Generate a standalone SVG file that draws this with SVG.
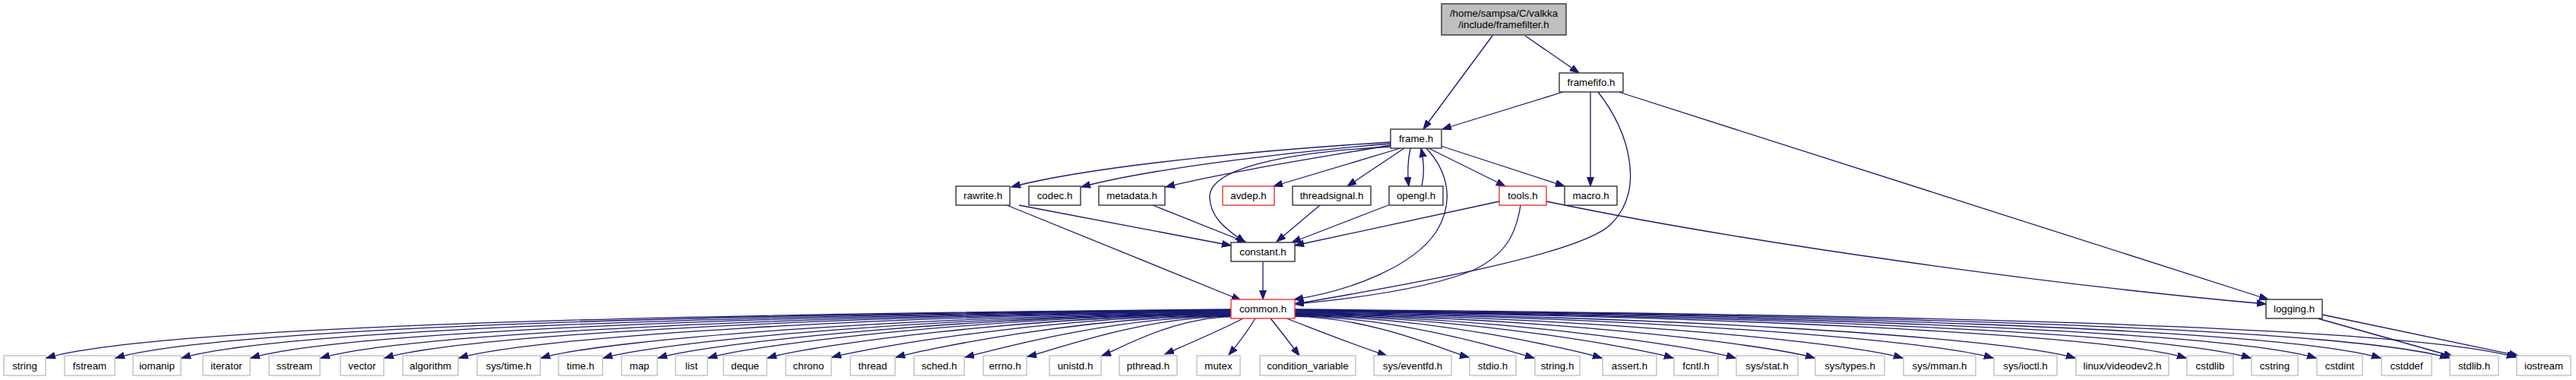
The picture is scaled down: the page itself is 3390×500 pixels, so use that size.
<svg xmlns="http://www.w3.org/2000/svg" width="3390" height="500" viewBox="0 0 3390 500">
<style>
rect{stroke-width:1.4}
.n rect{fill:#fff;stroke:#333}
.r rect{fill:#fff;stroke:#f03030}
.g rect{fill:#fff;stroke:#c0c0c0}
.t rect{fill:#bfbfbf;stroke:#333}
text{font-family:"Liberation Sans",Arial,sans-serif;font-size:13.33px;text-anchor:middle;fill:#000}
#edges path{fill:none;stroke:#191970;stroke-width:1.3;marker-end:url(#a)}
</style>
<defs>
<marker id="a" markerWidth="14" markerHeight="10" refX="12" refY="4.5" orient="auto" markerUnits="userSpaceOnUse"><path d="M0,0 L12,4.5 L0,9 z" fill="#191970" stroke="#191970" stroke-width="1"/></marker>
</defs>
<rect width="3390" height="500" fill="#fff"/>
<g id="edges">
<path d="M1964,47 L1873,170"/>
<path d="M2007,47 L2078,96"/>
<path d="M2057,121 L1898,170"/>
<path d="M2093,121 L2093,245"/>
<path d="M2103,121 C2145,175 2165,250 2120,295 C2080,335 1850,375 1704,400"/>
<path d="M2130,121 L2985,394"/>
<path d="M1830,187 C1700,195 1450,215 1331,246"/>
<path d="M1830,189 C1720,198 1520,220 1423,246"/>
<path d="M1830,191 C1750,205 1620,225 1534,246"/>
<path d="M1843,195 L1676,245"/>
<path d="M1848,195 L1773,245"/>
<path d="M1856,195 C1852,215 1852,230 1854,245"/>
<path d="M1871,245 C1875,228 1874,212 1870,195"/>
<path d="M1830,193 C1700,200 1590,220 1592,260 C1593,290 1620,305 1638,319"/>
<path d="M1880,195 L1981,245"/>
<path d="M1896,192 L2059,245"/>
<path d="M1877,195 C1905,225 1915,265 1890,305 C1860,350 1780,382 1703,394"/>
<path d="M1341,270 L1620,323"/>
<path d="M1325,270 L1633,395"/>
<path d="M1517,270 L1640,319"/>
<path d="M1737,270 L1680,318"/>
<path d="M1827,270 L1700,319"/>
<path d="M1973,265 L1704,323"/>
<path d="M2001,270 C1995,310 1980,335 1940,355 C1880,380 1780,393 1704,400"/>
<path d="M2035,265 C2300,320 2700,375 2982,400"/>
<path d="M1662,344 L1662,394"/>
<path d="M3050,419 L3228,469"/>
<path d="M3056,414 L3314,468"/>
<path d="M1620,407 C918,413.2 217,427.3 61,471"/>
<path d="M1620,407.6 C959,413.5 299,429.9 152,471"/>
<path d="M1620,408.3 C999,413.8 377,432.3 239,471"/>
<path d="M1620,408.9 C1040,414.1 459,434.9 330,471"/>
<path d="M1620,409.6 C1081,414.4 542,437.5 422,471"/>
<path d="M1620,410.1 C1119,414.6 617,439.8 506,471"/>
<path d="M1620,410.8 C1163,414.9 706,442.6 604,471"/>
<path d="M1620,411.6 C1211,415.2 803,445.6 712,471"/>
<path d="M1620,412.2 C1248,415.5 877,447.9 794,471"/>
<path d="M1620,412.7 C1281,415.7 941,449.9 866,471"/>
<path d="M1620,413.1 C1310,415.9 1001,451.7 932,471"/>
<path d="M1620,413.7 C1345,416.1 1071,453.9 1010,471"/>
<path d="M1620,414.3 C1384,416.4 1148,456.3 1095,470"/>
<path d="M1620,414.9 C1422,416.7 1223,458.7 1179,470"/>
<path d="M1620,415.5 C1462,416.9 1305,461.2 1270,470"/>
<path d="M1620,416.1 C1499,417.2 1379,463.5 1352,469"/>
<path d="M1620,416.8 C1543,417.5 1467,462 1450,468"/>
<path d="M1636,419 C1605,435 1565,452 1533,466"/>
<path d="M1652,419 C1642,435 1630,452 1617,467"/>
<path d="M1672,419 C1685,435 1698,452 1710,468"/>
<path d="M1693,419 C1735,435 1785,455 1825,468"/>
<path d="M1704,416.4 C1807,417.3 1910,464.6 1933,470"/>
<path d="M1704,415.8 C1846,417.1 1988,462.2 2019,471"/>
<path d="M1704,415.2 C1886,416.8 2068,459.7 2108,471"/>
<path d="M1704,414.6 C1928,416.6 2152,457.1 2202,471"/>
<path d="M1704,414 C1965,416.3 2226,454.8 2284,471"/>
<path d="M1704,413.3 C2012,416 2320,451.8 2388,471"/>
<path d="M1704,412.5 C2064,415.7 2424,448.6 2504,471"/>
<path d="M1704,411.7 C2118,415.4 2531,445.3 2623,471"/>
<path d="M1704,411 C2166,415.1 2628,442.2 2731,471"/>
<path d="M1704,410 C2232,414.7 2760,438.2 2877,471"/>
<path d="M1704,409.4 C2270,414.4 2836,435.8 2962,471"/>
<path d="M1704,408.8 C2309,414.2 2914,433.4 3048,471"/>
<path d="M1704,408.2 C2347,413.9 2990,431 3133,471"/>
<path d="M1704,407.6 C2388,413.7 3071,428.5 3223,471"/>
<path d="M1704,407 C2427,413.4 3150,426 3311,470"/>
</g>
<g id="framefilter_h" class="t"><rect x="1897" y="5" width="164" height="41"/><text x="1979" y="22">/home/sampsa/C/valkka</text><text x="1979" y="37">/include/framefilter.h</text></g>
<g id="framefifo_h" class="n"><rect x="2052" y="96" width="84" height="25"/><text x="2094" y="113">framefifo.h</text></g>
<g id="frame_h" class="n"><rect x="1830" y="170" width="67" height="25"/><text x="1863.5" y="187">frame.h</text></g>
<g id="rawrite_h" class="n"><rect x="1258" y="245" width="71" height="25"/><text x="1293.5" y="262">rawrite.h</text></g>
<g id="codec_h" class="n"><rect x="1354" y="245" width="68" height="25"/><text x="1388" y="262">codec.h</text></g>
<g id="metadata_h" class="n"><rect x="1446" y="245" width="87" height="25"/><text x="1489.5" y="262">metadata.h</text></g>
<g id="avdep_h" class="r"><rect x="1609" y="245" width="68" height="25"/><text x="1643" y="262">avdep.h</text></g>
<g id="threadsignal_h" class="n"><rect x="1701" y="245" width="103" height="25"/><text x="1752.5" y="262">threadsignal.h</text></g>
<g id="opengl_h" class="n"><rect x="1828" y="245" width="71" height="25"/><text x="1863.5" y="262">opengl.h</text></g>
<g id="tools_h" class="r"><rect x="1973" y="245" width="62" height="25"/><text x="2004" y="262">tools.h</text></g>
<g id="macro_h" class="n"><rect x="2059" y="245" width="69" height="25"/><text x="2093.5" y="262">macro.h</text></g>
<g id="constant_h" class="n"><rect x="1620" y="319" width="84" height="25"/><text x="1662" y="336">constant.h</text></g>
<g id="common_h" class="r"><rect x="1620" y="394" width="84" height="25"/><text x="1662" y="411">common.h</text></g>
<g id="logging_h" class="n"><rect x="2982" y="394" width="74" height="25"/><text x="3019" y="411">logging.h</text></g>
<g id="string" class="g"><rect x="5" y="468" width="55" height="26"/><text x="32.5" y="485.5">string</text></g>
<g id="fstream" class="g"><rect x="85" y="468" width="66" height="26"/><text x="118" y="485.5">fstream</text></g>
<g id="iomanip" class="g"><rect x="175" y="468" width="63" height="26"/><text x="206.5" y="485.5">iomanip</text></g>
<g id="iterator" class="g"><rect x="267" y="468" width="62" height="26"/><text x="298" y="485.5">iterator</text></g>
<g id="sstream" class="g"><rect x="354" y="468" width="67" height="26"/><text x="387.5" y="485.5">sstream</text></g>
<g id="vector" class="g"><rect x="448" y="468" width="57" height="26"/><text x="476.5" y="485.5">vector</text></g>
<g id="algorithm" class="g"><rect x="530" y="468" width="73" height="26"/><text x="566.5" y="485.5">algorithm</text></g>
<g id="sys_time_h" class="g"><rect x="628" y="468" width="83" height="26"/><text x="669.5" y="485.5">sys/time.h</text></g>
<g id="time_h" class="g"><rect x="735" y="468" width="58" height="26"/><text x="764" y="485.5">time.h</text></g>
<g id="map" class="g"><rect x="818" y="468" width="47" height="26"/><text x="841.5" y="485.5">map</text></g>
<g id="list" class="g"><rect x="889" y="468" width="42" height="26"/><text x="910" y="485.5">list</text></g>
<g id="deque" class="g"><rect x="952" y="468" width="57" height="26"/><text x="980.5" y="485.5">deque</text></g>
<g id="chrono" class="g"><rect x="1034" y="468" width="60" height="26"/><text x="1064" y="485.5">chrono</text></g>
<g id="thread" class="g"><rect x="1119" y="468" width="59" height="26"/><text x="1148.5" y="485.5">thread</text></g>
<g id="sched_h" class="g"><rect x="1203" y="468" width="66" height="26"/><text x="1236" y="485.5">sched.h</text></g>
<g id="errno_h" class="g"><rect x="1294" y="468" width="57" height="26"/><text x="1322.5" y="485.5">errno.h</text></g>
<g id="unistd_h" class="g"><rect x="1381" y="468" width="68" height="26"/><text x="1415" y="485.5">unistd.h</text></g>
<g id="pthread_h" class="g"><rect x="1473" y="468" width="76" height="26"/><text x="1511" y="485.5">pthread.h</text></g>
<g id="mutex" class="g"><rect x="1575" y="468" width="57" height="26"/><text x="1603.5" y="485.5">mutex</text></g>
<g id="condition_variable" class="g"><rect x="1658" y="468" width="126" height="26"/><text x="1721" y="485.5">condition_variable</text></g>
<g id="sys_eventfd_h" class="g"><rect x="1808" y="468" width="102" height="26"/><text x="1859" y="485.5">sys/eventfd.h</text></g>
<g id="stdio_h" class="g"><rect x="1934" y="468" width="61" height="26"/><text x="1964.5" y="485.5">stdio.h</text></g>
<g id="string_h" class="g"><rect x="2020" y="468" width="59" height="26"/><text x="2049.5" y="485.5">string.h</text></g>
<g id="assert_h" class="g"><rect x="2109" y="468" width="71" height="26"/><text x="2144.5" y="485.5">assert.h</text></g>
<g id="fcntl_h" class="g"><rect x="2203" y="468" width="58" height="26"/><text x="2232" y="485.5">fcntl.h</text></g>
<g id="sys_stat_h" class="g"><rect x="2285" y="468" width="81" height="26"/><text x="2325.5" y="485.5">sys/stat.h</text></g>
<g id="sys_types_h" class="g"><rect x="2389" y="468" width="91" height="26"/><text x="2434.5" y="485.5">sys/types.h</text></g>
<g id="sys_mman_h" class="g"><rect x="2505" y="468" width="95" height="26"/><text x="2552.5" y="485.5">sys/mman.h</text></g>
<g id="sys_ioctl_h" class="g"><rect x="2624" y="468" width="83" height="26"/><text x="2665.5" y="485.5">sys/ioctl.h</text></g>
<g id="linux_videodev2_h" class="g"><rect x="2732" y="468" width="122" height="26"/><text x="2793" y="485.5">linux/videodev2.h</text></g>
<g id="cstdlib" class="g"><rect x="2878" y="468" width="61" height="26"/><text x="2908.5" y="485.5">cstdlib</text></g>
<g id="cstring" class="g"><rect x="2963" y="468" width="61" height="26"/><text x="2993.5" y="485.5">cstring</text></g>
<g id="cstdint" class="g"><rect x="3049" y="468" width="60" height="26"/><text x="3079" y="485.5">cstdint</text></g>
<g id="cstddef" class="g"><rect x="3134" y="468" width="66" height="26"/><text x="3167" y="485.5">cstddef</text></g>
<g id="stdlib_h" class="g"><rect x="3224" y="468" width="64" height="26"/><text x="3256" y="485.5">stdlib.h</text></g>
<g id="iostream" class="g"><rect x="3312" y="468" width="71" height="26"/><text x="3347.5" y="485.5">iostream</text></g>
</svg>
